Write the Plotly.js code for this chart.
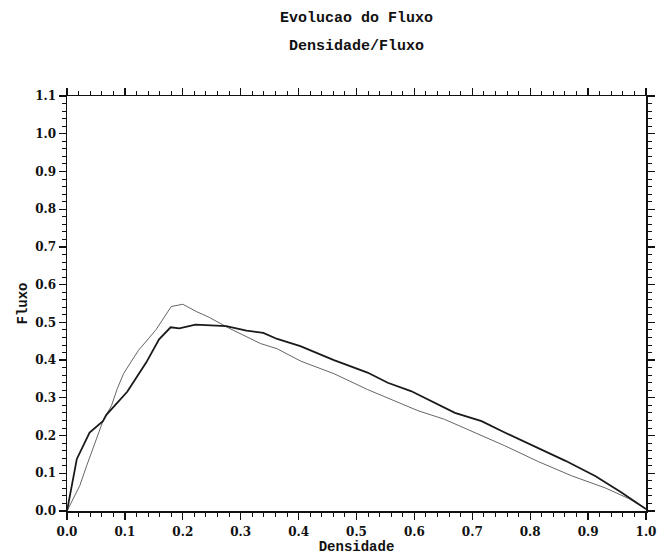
<!DOCTYPE html>
<html>
<head>
<meta charset="utf-8">
<script src="https://cdn.plot.ly/plotly-3.0.1.min.js"></script>
<style>html,body{margin:0;padding:0;background:#fff;}#chart{width:662px;height:558px;}</style>
</head>
<body>
<div id="chart"></div>
<script>
// Thick (dark) curve
var densThick = [0.0, 0.017, 0.039, 0.062, 0.068, 0.104, 0.137, 0.159, 0.179, 0.194, 0.222, 0.275, 0.310, 0.339, 0.363, 0.403, 0.461, 0.519, 0.554, 0.594, 0.670, 0.716, 0.756, 0.808, 0.861, 0.913, 0.957, 1.0];
var fluxThick = [0.0, 0.138, 0.208, 0.238, 0.255, 0.316, 0.394, 0.455, 0.487, 0.484, 0.494, 0.490, 0.478, 0.472, 0.456, 0.437, 0.400, 0.367, 0.340, 0.318, 0.260, 0.238, 0.208, 0.171, 0.133, 0.092, 0.050, 0.005];
// Thin (light) curve
var densThin = [0.0, 0.022, 0.034, 0.050, 0.062, 0.077, 0.087, 0.098, 0.123, 0.154, 0.180, 0.200, 0.223, 0.246, 0.278, 0.334, 0.363, 0.404, 0.461, 0.519, 0.554, 0.606, 0.652, 0.698, 0.756, 0.814, 0.872, 0.930, 0.970, 1.0];
var fluxThin = [0.0, 0.067, 0.120, 0.190, 0.238, 0.280, 0.325, 0.365, 0.425, 0.481, 0.542, 0.548, 0.529, 0.513, 0.486, 0.444, 0.430, 0.397, 0.364, 0.322, 0.299, 0.266, 0.243, 0.212, 0.173, 0.131, 0.093, 0.061, 0.033, 0.005];

var xTicks = [0.0, 0.1, 0.2, 0.3, 0.4, 0.5, 0.6, 0.7, 0.8, 0.9, 1.0];
var yTicks = [0.0, 0.1, 0.2, 0.3, 0.4, 0.5, 0.6, 0.7, 0.8, 0.9, 1.0, 1.1];

var serif = "DejaVu Serif, Liberation Serif, serif";
var mono = "Liberation Mono, DejaVu Sans Mono, monospace";

var traces = [
  {x: densThin, y: fluxThin, type: 'scatter', mode: 'lines', line: {color: '#666', width: 1}, hoverinfo: 'skip'},
  {x: densThick, y: fluxThick, type: 'scatter', mode: 'lines', line: {color: '#1a1a1a', width: 1.8}, hoverinfo: 'skip'}
];

var axisCommon = {
  showgrid: false, zeroline: false, showline: true, linecolor: '#111', linewidth: 1.5,
  mirror: 'allticks', ticks: 'outside', ticklen: 7, tickwidth: 1.3, tickcolor: '#111',
  tickfont: {family: serif, size: 12, color: '#111', weight: 'bold'},
  minor: {dtick: 0.02, ticks: 'outside', ticklen: 4, tickwidth: 1, tickcolor: '#111'}
};

var layout = {
  width: 662, height: 558,
  margin: {l: 67, r: 16, t: 96, b: 47},
  paper_bgcolor: '#fff', plot_bgcolor: '#fff',
  showlegend: false,
  title: {text: 'Evolucao do Fluxo', x: 0.5, xref: 'paper', xanchor: 'center', y: 1 - 17 / 558, yref: 'container', yanchor: 'middle', font: {family: mono, size: 15, color: '#111', weight: 'bold'}},
  xaxis: Object.assign({}, axisCommon, {
    range: [0, 1.0], tickvals: xTicks, ticktext: xTicks.map(function (v) { return v.toFixed(1); }),
    ticklabelstandoff: 2,
    title: {text: 'Densidade', font: {family: mono, size: 14, color: '#111', weight: 'bold'}, standoff: 3}
  }),
  yaxis: Object.assign({}, axisCommon, {
    range: [0, 1.1], tickvals: yTicks, ticktext: yTicks.map(function (v) { return v.toFixed(1); }),
    title: {text: 'Fluxo', font: {family: mono, size: 14, color: '#111', weight: 'bold'}, standoff: 4}
  }),
  annotations: [
    {text: 'Densidade/Fluxo', xref: 'paper', yref: 'paper', x: 0.5, y: (511 - 47) / 415, xanchor: 'center', yanchor: 'middle', showarrow: false, font: {family: mono, size: 15, color: '#111', weight: 'bold'}}
  ]
};

Plotly.newPlot('chart', traces, layout, {displayModeBar: false, staticPlot: true});
</script>
</body>
</html>
